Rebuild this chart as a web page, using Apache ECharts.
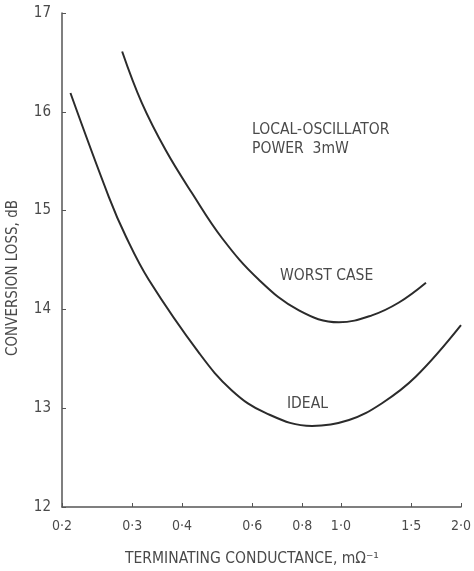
<!DOCTYPE html>
<html>
<head>
<meta charset="utf-8">
<script src="https://cdn.jsdelivr.net/npm/echarts@6/dist/echarts.min.js"></script>
<style>
  html, body { margin: 0; padding: 0; background: #fff; }
  #chart { width: 474px; height: 571px; }
</style>
</head>
<body>
<div id="chart"></div>
<script>
// x values in mOhm^-1, y values in dB
const idealX = [0.210, 0.262, 0.289, 0.330, 0.441, 0.533, 0.649, 0.847, 1.048, 1.268, 1.542, 2.0];
const idealY = [16.19, 15.14, 14.74, 14.30, 13.56, 13.18, 12.95, 12.82, 12.88, 13.05, 13.32, 13.84];

const worstX = [0.283, 0.317, 0.364, 0.423, 0.504, 0.623, 0.785, 0.989, 1.196, 1.398, 1.634];
const worstY = [16.61, 16.09, 15.61, 15.18, 14.72, 14.30, 13.99, 13.87, 13.94, 14.07, 14.27];

const xTicks = [0.2, 0.3, 0.4, 0.6, 0.8, 1.0, 1.5, 2.0];
const xTickLabels = ['0·2', '0·3', '0·4', '0·6', '0·8', '1·0', '1·5', '2·0'];

const pairs = (xs, ys) => xs.map((x, i) => [x, ys[i]]);

const font = '"DejaVu Sans Condensed", "Liberation Sans Narrow", sans-serif';
const textColor = '#4a4a4a';
const lineColor = '#2b2b2b';

const chart = echarts.init(document.getElementById('chart'));

chart.setOption({
  animation: false,
  grid: { left: 62, right: 12, top: 13, bottom: 64 },
  xAxis: {
    type: 'log',
    logBase: 10,
    min: 0.2,
    max: 2.0,
    axisLine: { lineStyle: { color: '#555', width: 1.5 } },
    axisTick: { inside: true, length: 4, customValues: xTicks, lineStyle: { color: '#555' } },
    axisLabel: {
      customValues: xTicks,
      color: textColor,
      fontFamily: font,
      fontSize: 14,
      margin: 12,
      formatter: v => xTickLabels[xTicks.findIndex(t => Math.abs(t - v) < 1e-6)] || ''
    },
    splitLine: { show: false },
    minorTick: { show: false }
  },
  yAxis: {
    type: 'value',
    min: 12,
    max: 17,
    interval: 1,
    axisLine: { show: true, lineStyle: { color: '#555', width: 1.5 } },
    axisTick: { show: true, inside: true, length: 4, lineStyle: { color: '#555' } },
    axisLabel: { color: textColor, fontFamily: font, fontSize: 15, margin: 11 },
    splitLine: { show: false }
  },
  graphic: [
    {
      type: 'text', left: 6, top: 200,
      rotation: Math.PI / 2,
      style: { text: 'CONVERSION LOSS, dB', fill: textColor, font: '15px ' + font }
    },
    {
      type: 'text', x: 252, y: 559,
      style: { text: 'TERMINATING CONDUCTANCE, mΩ⁻¹', fill: textColor, font: '15.5px ' + font, align: 'center', verticalAlign: 'middle' }
    },
    {
      type: 'text', x: 252, y: 139,
      style: { text: 'LOCAL-OSCILLATOR\nPOWER  3mW', fill: textColor, font: '15.5px ' + font, lineHeight: 19, verticalAlign: 'middle' }
    },
    {
      type: 'text', x: 280, y: 276,
      style: { text: 'WORST CASE', fill: textColor, font: '15.5px ' + font, verticalAlign: 'middle' }
    },
    {
      type: 'text', x: 287, y: 404,
      style: { text: 'IDEAL', fill: textColor, font: '15.5px ' + font, verticalAlign: 'middle' }
    }
  ],
  series: [
    {
      name: 'Ideal',
      type: 'line',
      smooth: 0.4,
      showSymbol: false,
      lineStyle: { color: lineColor, width: 2 },
      data: pairs(idealX, idealY)
    },
    {
      name: 'Worst case',
      type: 'line',
      smooth: 0.4,
      showSymbol: false,
      lineStyle: { color: lineColor, width: 2 },
      data: pairs(worstX, worstY)
    }
  ]
});
</script>
</body>
</html>
